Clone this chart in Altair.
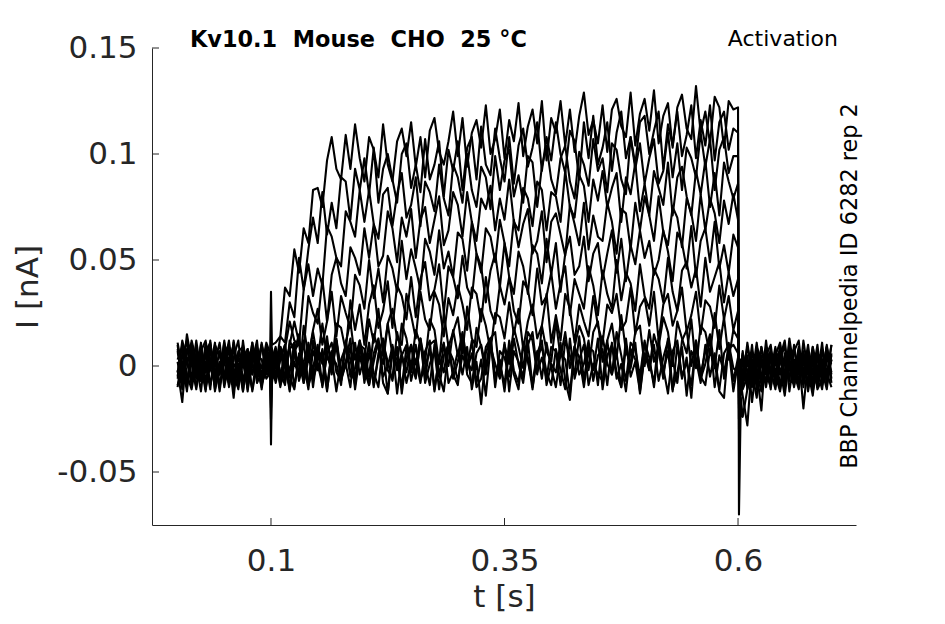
import altair as alt
import pandas as pd

# ---- sample times (s) ----
T_PRE = [round(0.005 * i, 3) for i in range(20)]          # 0.000 .. 0.095
T_STEP = [0.099, 0.100, 0.101]                              # step onset artefact
T_ACT = [round(0.105 + 0.005 * i, 3) for i in range(99)]   # 0.105 .. 0.595
T_END = [0.600, 0.601, 0.603]                               # step offset
T_POST = [round(0.605 + 0.005 * i, 3) for i in range(20)]  # 0.605 .. 0.700
TIME_S = T_PRE + T_STEP + T_ACT + T_END + T_POST

# ---- current traces, values in pA ----
TRACE_A10 = [
    3, 9, -4, -11, 2, 7, 12, -1, -8, -3, 6, 10, -7, 1, -12, 4, 8, -5, 11, -2,
    4, 35, 10,
    11, 14, 37, 33, 55, 44, 65, 58, 83, 84,
    75, 97, 108, 93, 88, 109, 93, 114, 98, 87,
    108, 102, 89, 114, 95, 87, 106, 112, 99, 115,
    94, 108, 89, 111, 117, 101, 95, 106, 120, 99,
    117, 94, 110, 116, 103, 123, 100, 107, 121, 98,
    116, 106, 124, 99, 113, 121, 105, 125, 97, 117,
    110, 125, 104, 121, 101, 118, 129, 109, 116, 105,
    123, 101, 121, 126, 113, 108, 129, 104, 119, 126,
    111, 130, 105, 118, 124, 103, 122, 128, 112, 107,
    132, 110, 120, 105, 127, 122, 103, 125, 121,
    122, -70, -15,
    -24, -11, -3, -15, 4, -8, 7, -4, -12, 3, -1, -9, 8, -5, 1, -10, 5, -3, 9, -6,
]
TRACE_A9 = [
    -9, -2, 6, 11, -5, 1, -10, 8, 3, -12, 5, 9, -1, -7, 10, -4, 2, 12, -8, -3,
    -5, 12, 8,
    -1, 14, 11, 30, 23, 51, 36, 55, 70, 58,
    82, 62, 77, 65, 89, 87, 69, 93, 83, 98,
    81, 103, 77, 93, 100, 88, 77, 100, 105, 84,
    95, 82, 107, 88, 95, 106, 80, 102, 92, 106,
    83, 103, 108, 88, 113, 95, 90, 112, 98, 87,
    108, 86, 104, 112, 94, 103, 115, 92, 108, 97,
    115, 100, 91, 111, 106, 88, 115, 98, 118, 95,
    103, 115, 92, 110, 120, 98, 108, 95, 115, 118,
    100, 111, 120, 93, 114, 104, 120, 99, 109, 123,
    98, 116, 104, 123, 97, 115, 120, 102, 112,
    110, -30, -8,
    -14, -28, 2, -7, 9, -3, -10, 4, 7, -6, 11, -9, 1, -4, 6, -12, -1, 8, -7, 3,
]
TRACE_A8 = [
    7, -6, 15, 2, -10, 4, -3, 9, -11, 0, 8, -5, 11, -9, 3, 6, -12, 1, 10, -4,
    3, -10, 5,
    7, -6, 8, 21, 12, 10, 36, 48, 33, 46,
    38, 66, 61, 51, 47, 73, 68, 61, 83, 68,
    83, 67, 60, 81, 84, 66, 81, 91, 70, 76,
    89, 66, 87, 82, 73, 95, 79, 71, 95, 89,
    77, 100, 83, 75, 94, 89, 74, 99, 83, 97,
    102, 80, 90, 77, 99, 96, 75, 94, 104, 88,
    81, 98, 104, 87, 79, 101, 95, 85, 107, 92,
    98, 82, 105, 102, 88, 81, 108, 93, 105, 86,
    98, 107, 86, 92, 110, 89, 105, 83, 103, 98,
    89, 110, 94, 107, 83, 102, 108, 91, 99,
    99, -25, -12,
    -6, 5, -17, 2, -5, 8, -2, -11, 4, -7, 9, 1, -9, 12, -3, 5, -10, 2, -6, 10,
]
TRACE_A7 = [
    -3, 10, -8, 5, 1, -12, 7, 11, -6, -1, 9, -10, 4, 12, -7, 2, -4, 8, -11, 6,
    -2, 8, 1,
    -5, 9, -8, 10, 21, 11, 8, 33, 25, 20,
    41, 21, 43, 51, 39, 33, 56, 51, 43, 65,
    51, 67, 47, 52, 73, 65, 49, 70, 61, 74,
    51, 69, 75, 58, 69, 80, 57, 64, 82, 76,
    61, 82, 68, 59, 79, 74, 85, 64, 79, 69,
    88, 68, 64, 84, 79, 66, 87, 83, 64, 82,
    80, 68, 92, 75, 70, 90, 85, 68, 88, 78,
    92, 75, 84, 91, 68, 89, 81, 96, 73, 86,
    71, 92, 84, 76, 96, 71, 89, 94, 80, 71,
    92, 81, 97, 75, 91, 71, 96, 87, 79,
    86, -20, -5,
    3, -9, 7, -3, -12, 5, 10, -6, -1, -14, 4, 8, -4, 2, -8, 9, -2, -11, 6, -3,
]
TRACE_A6 = [
    11, -1, -9, 4, 8, -6, 2, -11, 10, 5, -3, -8, 12, -2, 6, -10, 9, 3, -5, 1,
    5, -12, -3,
    7, -3, -9, 12, 7, -5, 19, 4, 17, 27,
    10, 21, 35, 14, 33, 25, 18, 43, 38, 27,
    50, 32, 46, 30, 52, 46, 35, 59, 41, 55,
    46, 36, 60, 54, 43, 64, 46, 54, 42, 63,
    60, 45, 68, 53, 44, 65, 61, 49, 69, 58,
    47, 69, 56, 67, 74, 53, 59, 73, 49, 68,
    72, 62, 52, 76, 67, 57, 77, 55, 71, 61,
    59, 77, 68, 53, 74, 72, 55, 77, 64, 80,
    71, 59, 80, 63, 57, 75, 70, 56, 79, 72,
    59, 81, 64, 79, 72, 58, 78, 67, 81,
    69, -18, -9,
    -10, 2, -5, 11, -7, 4, -3, 9, -10, 3, -6, 7, 12, -7, 4, -2, -9, 8, -4, 10,
]
TRACE_A5 = [
    -6, 4, 12, -8, -2, 9, -11, 3, 7, -4, 11, 1, -9, 6, -12, 8, 0, -6, 10, -1,
    -4, 10, 2,
    -6, 9, 2, -10, 7, 15, -4, 4, 16, 3,
    20, 4, 0, 20, 18, 7, 31, 17, 29, 10,
    29, 38, 18, 26, 40, 18, 38, 33, 22, 42,
    23, 41, 49, 31, 36, 48, 25, 47, 42, 32,
    52, 37, 32, 53, 47, 30, 45, 53, 37, 58,
    42, 34, 54, 47, 34, 57, 53, 39, 60, 43,
    58, 35, 53, 61, 43, 47, 61, 40, 53, 58,
    41, 53, 64, 44, 60, 40, 57, 48, 64, 51,
    59, 43, 50, 64, 54, 40, 63, 58, 46, 66,
    42, 59, 65, 49, 68, 46, 57, 44, 62,
    56, -15, -3,
    5, -7, 10, -11, 4, -4, 8, -8, 2, 10, -12, 3, -3, 7, -10, 6, 3, -6, 9, -8,
]
TRACE_A4 = [
    2, -11, 7, 9, -3, -7, 11, -2, 5, -9, 1, 12, -6, -10, 4, 8, -4, 6, -8, 10,
    2, -15, -6,
    4, -10, 7, -3, 11, -7, 2, 10, -10, 7,
    1, 14, -4, 12, -4, 11, 21, 3, 12, 3,
    22, 11, 27, 5, 20, 27, 13, 10, 34, 24,
    13, 35, 22, 17, 35, 29, 14, 32, 24, 38,
    29, 17, 37, 34, 21, 42, 26, 20, 38, 29,
    42, 26, 20, 40, 36, 24, 46, 29, 33, 44,
    27, 39, 47, 24, 41, 34, 27, 47, 38, 24,
    45, 34, 27, 50, 31, 44, 39, 26, 48, 33,
    27, 46, 41, 30, 51, 35, 26, 45, 49, 37,
    46, 28, 51, 35, 42, 49, 30, 44, 33,
    41, -12, -7,
    -4, 9, -2, 6, -9, 12, -6, 3, -11, 6, 1, -7, 5, -20, 3, -4, 10, -9, 2, 4,
]
TRACE_A3 = [
    -10, 6, 1, -5, 12, -3, 8, -9, 2, 11, -7, 4, -15, 7, 9, -2, -11, 5, 3, -6,
    -3, 6, 4,
    -8, 3, 10, -5, -11, 6, 1, -9, 12, -2,
    8, -9, 6, 13, -3, 2, 13, -8, 10, 8,
    -5, 15, 8, 1, 20, 5, 0, 20, 13, -1,
    17, 10, 2, 22, 17, 1, 25, 9, 16, 23,
    6, 28, 13, 9, 27, 19, 7, 25, 23, 13,
    30, 15, 27, 8, 21, 29, 13, 19, 34, 11,
    24, 12, 34, 27, 11, 29, 21, 14, 33, 19,
    11, 29, 25, 34, 17, 21, 37, 15, 28, 32,
    19, 35, 12, 29, 34, 19, 26, 37, 16, 24,
    35, 15, 31, 28, 18, 38, 22, 33, 17,
    26, -10, -2,
    7, -11, 3, -6, 9, -2, -8, 5, 11, -4, 2, -10, 7, -3, 10, -8, 5, -2, -11, 6,
]
TRACE_A2 = [
    8, -4, -10, 12, 3, -7, 5, 10, -12, 1, 6, -3, 9, -8, 2, -11, 7, 4, -1, 11,
    6, -8, -2,
    5, -7, 2, 9, -10, 4, -3, 8, -6, 1,
    -9, 6, 11, -3, -7, 11, 3, -9, 9, 0,
    10, -10, 6, 13, -2, -6, 16, 5, -3, 10,
    1, 13, -6, 10, 12, -5, 10, 0, 17, 5,
    16, 2, -2, 18, 9, -4, 13, 16, -5, 10,
    1, 18, 9, -1, 16, 12, -4, 19, 7, 2,
    21, 4, 16, -1, 9, 19, 13, -2, 16, 21,
    2, 12, 20, 4, 24, 7, 1, 16, 19, 0,
    17, 2, 9, 23, 16, 0, 21, 13, 6, 22,
    -1, 19, 16, 5, 25, 8, 23, 3, 17,
    13, -8, -6,
    -2, 4, -8, 8, 1, -10, 4, -3, 7, -9, 13, -2, -7, 5, -4, 9, -7, 3, -3, -10,
]
TRACE_A1 = [
    -5, 12, 3, -9, 6, 1, -12, 9, -4, 7, -10, 2, 10, -6, 5, -2, 11, -8, -3, 8,
    -1, 9, 3,
    -4, 9, -1, -10, 6, 2, -8, 11, -5, 3,
    7, -11, 4, 1, -9, 12, -3, -7, 10, -2,
    -9, 6, 13, -5, 0, 9, -13, 5, 10, -7,
    3, -8, 7, 12, -11, 4, -3, 11, -6, 2,
    14, -4, -8, 6, 10, -1, 13, -10, 7, 4,
    -5, 13, 1, -8, 10, 16, -3, 4, -6, 9,
    7, -9, 12, 5, -4, 14, -7, 9, 7, -9,
    14, 1, -4, 16, 5, -7, 11, 8, -5, 12,
    -2, 15, 7, -6, 13, 3, -8, 12, 17, 0,
    12, -4, 7, 15, -1, 17, -6, 8, 10,
    6, -6, 0,
    6, -3, 2, -9, 5, 3, -11, 8, -4, 2, -6, 10, -8, 4, -12, 2, 7, -5, 4, 1,
]
TRACE_F1 = [
    10, -8, 4, 1, -11, 7, -3, 12, -9, 2, -5, 9, -12, 6, 3, -7, 11, -1, -10, 5,
    4, -37, -8,
    5, -9, -3, 8, 11, -6, 2, -11, 7, 1,
    -7, 10, 4, -12, 3, 9, -5, -1, 12, -8,
    6, -3, -10, 11, 2, -7, 9, -13, 4, 10,
    -5, 12, -8, 1, 7, -11, 5, 10, -4, -9,
    11, -2, 6, -10, -6, 9, 13, -7, 3, -12,
    8, -4, -11, 10, 2, -8, 6, 12, -9, 1,
    -3, 11, -7, -16, 9, 4, -10, 7, -2, 13,
    -11, 5, 10, -6, 1, -12, 8, 3, -8, 11,
    4, -10, 9, -1, -13, 7, 12, -5, 2, -9,
    10, -6, 1, 13, -10, 5, -3, 9, -12,
    2, -5, 3,
    -8, 11, -4, 4, -7, 8, 2, -6, 10, -8, 3, -4, 9, -10, 6, 1, -5, 11, -9, 3,
]
TRACE_F2 = [
    -2, -17, 8, 5, -6, 11, -10, 3, 7, -4, 12, -9, 1, -3, 9, -12, 6, 2, -8, 4,
    -6, -20, -4,
    -7, 4, 10, -11, 2, -5, 12, -9, -2, 8,
    3, -12, 7, 9, -6, 1, -10, 11, -4, 5,
    -9, 2, 12, -8, -13, 6, 3, -10, 9, -3,
    10, -6, -1, 8, -12, 4, 11, -8, -3, 7,
    -4, 9, -11, 2, -18, 6, 13, -5, 1, -9,
    12, -2, -8, 10, 4, -11, 7, -6, 11, -1,
    -10, 6, 3, -13, 9, -4, 1, 12, -7, 5,
    8, -9, 11, -3, -10, 13, -5, 2, -12, 6,
    -2, 10, -7, 4, 12, -11, -3, 9, -14, 7,
    3, -8, 10, -5, 6, -12, -15, 11, -1,
    -3, -9, -4,
    -11, -5, 6, -2, -21, 9, -4, 1, 5, -10, 7, -3, -11, 4, -2, -14, 6, 3, -7, 5,
]
TRACE_F3 = [
    6, 2, -12, 8, -4, 10, -7, -1, 11, -10, 4, 7, -2, -11, 12, -5, 1, 9, -9, 3,
    2, -25, 3,
    9, -4, 2, -12, 7, 11, -8, 3, -1, 10,
    -10, 6, -3, 12, -7, 1, 9, -11, 5, -5,
    11, -9, 4, 7, -13, 10, -2, 6, -8, 2,
    -6, 13, 1, -9, 10, -4, -12, 8, 3, -7,
    5, -1, 12, -8, 3, -14, 9, 1, -6, 11,
    -12, 7, 2, -5, 12, -10, 4, 9, -3, -9,
    8, -2, -11, 13, -6, 3, 10, -9, 1, -4,
    -7, 12, -4, 6, -10, 9, -1, 11, -13, 5,
    2, -8, 13, -3, 7, -12, 10, -6, 4, -15,
    12, -5, -9, 8, 1, -11, 6, 10, -7,
    4, -4, 2,
    2, -2, -10, 9, 3, -3, 6, -9, 4, 12, -7, -8, 2, 6, -3, 4, -11, -6, 10, -4,
]

TRACES = {
    "F1": TRACE_F1, "F2": TRACE_F2, "F3": TRACE_F3,
    "A1": TRACE_A1, "A2": TRACE_A2, "A3": TRACE_A3, "A4": TRACE_A4,
    "A5": TRACE_A5, "A6": TRACE_A6, "A7": TRACE_A7, "A8": TRACE_A8,
    "A9": TRACE_A9, "A10": TRACE_A10,
}

X_TICKS = [0.1, 0.35, 0.6]
Y_TICKS = [-0.05, 0, 0.05, 0.1, 0.15]
X_DOMAIN = [-0.0274, 0.7263]
Y_DOMAIN = [-0.075, 0.15]

TITLE = "Kv10.1\u00a0 Mouse\u00a0 CHO\u00a0 25 °C"
RIGHT_TOP = "Activation"
SIDE = "BBP Channelpedia ID 6282 rep 2"

rows = []
for name, vals in TRACES.items():
    if len(vals) != len(TIME_S):
        raise ValueError(f"{name}: {len(vals)} values, expected {len(TIME_S)}")
    for t, v in zip(TIME_S, vals):
        rows.append({"trace": name, "t": t, "I": v / 1000.0})
df = pd.DataFrame(rows)

INK = "#262626"
FONT = "DejaVu Sans"

x_enc = alt.X(
    "t:Q",
    scale=alt.Scale(domain=X_DOMAIN, nice=False, zero=False),
    axis=alt.Axis(values=X_TICKS, title="t [s]", labelExpr="format(datum.value, '~g')",
                  labelPadding=21, titlePadding=6),
)
y_enc = alt.Y(
    "I:Q",
    scale=alt.Scale(domain=Y_DOMAIN, nice=False, zero=False),
    axis=alt.Axis(values=Y_TICKS, title="I [nA]",
                  labelExpr="replace(format(datum.value, '~g'), '\u2212', '-')",
                  labelPadding=15, titlePadding=12),
)

lines = alt.Chart(df).mark_line(
    color="black", strokeWidth=2.1, clip=True, strokeJoin="round"
).encode(x=x_enc, y=y_enc, detail="trace:N")

xticks = alt.Chart(pd.DataFrame({"t": X_TICKS})).mark_rule(color=INK, strokeWidth=1).encode(
    x=x_enc, y=alt.value(477), y2=alt.value(470)
)
yticks = alt.Chart(pd.DataFrame({"I": Y_TICKS})).mark_rule(color=INK, strokeWidth=1).encode(
    y=y_enc, x=alt.value(0), x2=alt.value(7)
)

one = pd.DataFrame({"k": [0]})
title_txt = alt.Chart(one).mark_text(
    text=TITLE, font=FONT, fontSize=22.4, fontWeight="bold", align="left",
    baseline="alphabetic", color="black"
).encode(x=alt.value(38), y=alt.value(-1))
act_txt = alt.Chart(one).mark_text(
    text=RIGHT_TOP, font=FONT, fontSize=22, align="right",
    baseline="alphabetic", color="black"
).encode(x=alt.value(686), y=alt.value(-2))
side_txt = alt.Chart(one).mark_text(
    text=SIDE, font=FONT, fontSize=22.4, align="center", angle=270,
    baseline="alphabetic", color="black"
).encode(x=alt.value(705), y=alt.value(238))

chart = alt.layer(lines, xticks, yticks, title_txt, act_txt, side_txt).properties(
    width=704, height=477,
    autosize=alt.AutoSizeParams(type="none"),
    padding={"left": 144, "top": 40, "right": 77, "bottom": 91},
).configure_view(stroke=None).configure_axis(
    grid=False, ticks=False, tickSize=0, domainColor=INK, domainWidth=1,
    labelFont=FONT, labelFontSize=31, labelColor=INK,
    titleFont=FONT, titleFontSize=31, titleFontWeight="normal", titleColor=INK,
)

chart.save("out.html", embed_options={"renderer": "svg", "actions": False})
